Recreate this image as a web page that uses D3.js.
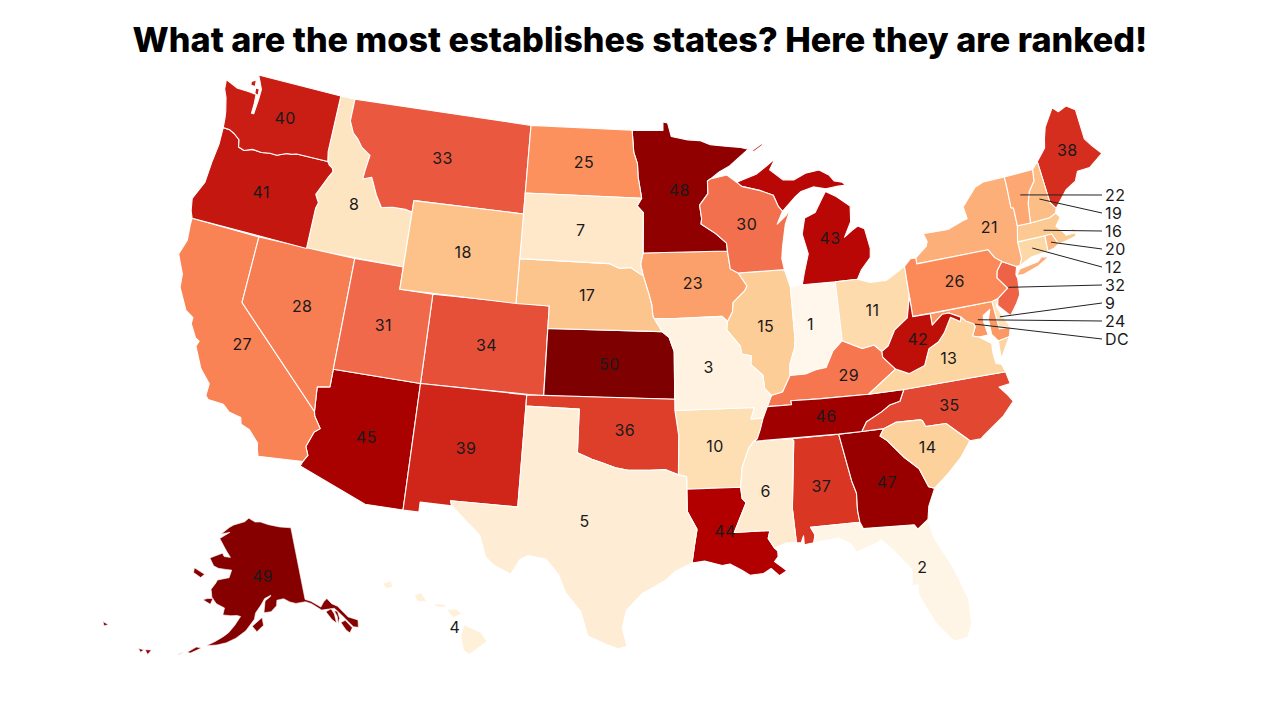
<!DOCTYPE html>
<html><head><meta charset="utf-8">
<script src="https://cdn.jsdelivr.net/npm/d3@7"></script>
<style>html,body{margin:0;background:#fff}svg{display:block}</style></head>
<body><svg id="c" width="1280" height="720"></svg>
<script>
const chartTitle = "What are the most establishes states? Here they are ranked!";
const stateCodes = ["AL","AK","AZ","AR","CA","CO","CT","DE","DC","FL","GA","HI","ID","IL","IN","IA","KS","KY","LA","ME","MD","MA","MI","MN","MS","MO","MT","NE","NV","NH","NJ","NM","NY","NC","ND","OH","OK","OR","PA","RI","SC","SD","TN","TX","UT","VT","VA","WA","WV","WI","WY"];
const stateRanks = [37,49,45,10,27,34,12,9,25,2,47,4,8,15,1,23,50,29,44,38,24,16,43,48,6,3,33,17,28,19,32,39,21,35,25,11,36,41,26,20,14,7,46,5,31,22,13,40,42,30,18];
const calloutOrder = ["VT","NH","MA","RI","CT","NJ","DE","MD","DC"];
const calloutTexts = ["22","19","16","20","12","32","9","24","DC"];
const colorStops = ["#fff7ec","#fee8c8","#fdd49e","#fdbb84","#fc8d59","#ef6548","#d7301f","#b30000","#7f0000"];
// Label anchors differ from ring centroids by these [degrees lon, degrees lat].
const labelShift = {WA:[.17,.05],ID:[-.1,0],TX:[-.2,.1],AK:[1.1,-.25],FL:[.33,.05],LA:[-.17,.1],MI:[-.17,.27],MN:[.11,0],NY:[.6,-.05],KY:[.6,0],IN:[-.22,.14],MO:[-.22,.05],MS:[-.17,0],GA:[.1,0],NC:[-.1,.05],WV:[.17,.05],ME:[.25,.1],OK:[.1,0],IA:[.1,.05],WI:[.1,.05],SD:[-.16,0],ND:[.1,.05],NV:[.1,.1],CA:[.1,0],AZ:[.1,0],PA:[.1,.05],VA:[.05,.1],HI:[-.8,.58],TN:[.1,0]};

// State outlines as [longitude, latitude] rings.
const outlines = {
WA:[[[-124.73,48.38],[-123.9,48.16],[-123.1,48.15],[-122.55,48.12],[-122.5,47.7],[-122.5,47.25],[-122.35,47.25],[-122.3,47.9],[-122.3,48.4],[-122.55,48.75],[-122.75,49.0],[-117.03,49.0],[-117.04,46.43],[-116.92,45.99],[-118.98,46.0],[-119.3,45.93],[-119.6,45.92],[-120.2,45.73],[-120.65,45.74],[-121.2,45.67],[-121.8,45.7],[-122.3,45.55],[-122.7,45.63],[-122.8,45.95],[-123.2,46.15],[-123.55,46.26],[-124.0,46.27],[-124.07,46.7],[-124.15,47.0],[-124.4,47.6],[-124.65,47.95]],[[-123.1,48.62],[-122.8,48.75],[-122.75,48.45],[-123.05,48.45]],[[-122.7,48.4],[-122.45,48.4],[-122.4,48.1],[-122.65,48.15]]],
OR:[[[-124.0,46.27],[-123.55,46.26],[-123.2,46.15],[-122.8,45.95],[-122.7,45.63],[-122.3,45.55],[-121.8,45.7],[-121.2,45.67],[-120.65,45.74],[-120.2,45.73],[-119.6,45.92],[-119.3,45.93],[-118.98,46.0],[-116.92,45.99],[-116.78,45.85],[-116.55,45.75],[-116.46,45.6],[-116.67,45.32],[-116.85,45.03],[-117.21,44.44],[-117.04,44.23],[-116.93,44.1],[-117.03,43.83],[-117.03,42.0],[-124.21,42.0],[-124.4,42.3],[-124.56,42.84],[-124.1,43.7],[-124.05,44.7],[-123.95,45.5]]],
CA:[[[-124.21,42.0],[-120.0,42.0],[-120.0,39.0],[-114.63,35.0],[-114.57,34.8],[-114.14,34.3],[-114.43,34.1],[-114.72,33.4],[-114.52,33.03],[-114.72,32.72],[-117.12,32.53],[-117.25,32.85],[-117.3,33.1],[-117.9,33.6],[-118.4,33.75],[-118.5,34.03],[-119.2,34.15],[-119.6,34.42],[-120.47,34.45],[-120.65,34.6],[-120.63,35.14],[-121.3,35.7],[-121.9,36.6],[-121.8,36.85],[-122.05,36.95],[-122.5,37.5],[-122.5,37.78],[-123.0,38.0],[-123.7,38.9],[-123.8,39.5],[-124.35,40.3],[-124.1,41.0],[-124.2,41.7]]],
NV:[[[-120,42],[-114.04,42],[-114.05,37],[-114.05,36.2],[-114.75,36.1],[-114.63,35.0],[-120,39]]],
ID:[[[-117.03,49],[-116.05,49],[-116.05,48.0],[-115.7,47.5],[-115.3,47.25],[-114.95,46.93],[-114.33,46.65],[-114.45,46.0],[-114.5,45.55],[-113.95,45.7],[-113.45,44.95],[-113.0,44.45],[-112.3,44.55],[-111.5,44.55],[-111.05,44.48],[-111.05,42],[-117.03,42],[-117.03,43.83],[-116.93,44.1],[-117.04,44.23],[-117.21,44.44],[-116.85,45.03],[-116.67,45.32],[-116.46,45.6],[-116.55,45.75],[-116.78,45.85],[-116.92,45.99],[-117.04,46.43]]],
MT:[[[-116.05,49],[-104.05,49],[-104.05,45],[-111.05,45],[-111.05,44.48],[-111.5,44.55],[-112.3,44.55],[-113.0,44.45],[-113.45,44.95],[-113.95,45.7],[-114.5,45.55],[-114.45,46.0],[-114.33,46.65],[-114.95,46.93],[-115.3,47.25],[-115.7,47.5],[-116.05,48.0]]],
WY:[[[-111.05,45],[-104.05,45],[-104.05,41],[-111.05,41]]],
UT:[[[-114.04,42],[-111.05,42],[-111.05,41],[-109.05,41],[-109.05,37],[-114.05,37]]],
AZ:[[[-114.05,37],[-109.05,37],[-109.05,31.33],[-111.07,31.33],[-114.81,32.5],[-114.72,32.72],[-114.52,33.03],[-114.72,33.4],[-114.43,34.1],[-114.14,34.3],[-114.57,34.8],[-114.63,35],[-114.75,36.1],[-114.05,36.2]]],
CO:[[[-109.05,41],[-102.05,41],[-102.05,37],[-109.05,37]]],
NM:[[[-109.05,37],[-103.0,37],[-103.04,32],[-106.62,32],[-106.53,31.78],[-108.21,31.78],[-108.21,31.33],[-109.05,31.33]]],
ND:[[[-104.05,49],[-97.23,49],[-97.1,48.0],[-96.85,47.5],[-96.8,46.9],[-96.56,45.94],[-104.05,45.94]]],
SD:[[[-104.05,45.94],[-96.56,45.94],[-96.85,45.6],[-96.45,45.3],[-96.45,43.5],[-96.6,43.0],[-96.44,42.49],[-96.7,42.6],[-97.2,42.85],[-97.9,42.8],[-98.5,43.0],[-104.05,43]]],
NE:[[[-104.05,43],[-98.5,43],[-97.9,42.8],[-97.2,42.85],[-96.7,42.6],[-96.44,42.49],[-96.1,41.7],[-95.92,41.2],[-95.85,40.7],[-95.77,40.58],[-95.31,40],[-102.05,40],[-102.05,41],[-104.05,41]]],
KS:[[[-102.05,40],[-95.31,40],[-95.1,39.87],[-94.9,39.75],[-94.61,39.11],[-94.62,37],[-102.04,37]]],
OK:[[[-103,37],[-94.62,37],[-94.62,36.5],[-94.43,35.39],[-94.48,33.64],[-95.2,33.88],[-96.0,33.85],[-96.6,33.85],[-97.2,33.85],[-97.9,33.95],[-98.6,34.15],[-99.2,34.3],[-100,34.56],[-100,36.5],[-103,36.5]]],
TX:[[[-106.62,32],[-103.04,32],[-103,36.5],[-100,36.5],[-100,34.56],[-99.2,34.3],[-98.6,34.15],[-97.9,33.95],[-97.2,33.85],[-96.6,33.85],[-96.0,33.85],[-95.2,33.88],[-94.48,33.64],[-94.04,33.55],[-94.04,33.0],[-94.04,32],[-93.55,31.2],[-93.7,30.5],[-93.85,29.7],[-94.7,29.35],[-95.3,28.9],[-96.4,28.35],[-97.2,27.6],[-97.4,26.8],[-97.15,25.96],[-97.6,25.85],[-98.2,26.05],[-99.1,26.4],[-99.5,27.5],[-100.3,28.3],[-100.7,29.1],[-101.4,29.77],[-102.3,29.88],[-102.7,29.7],[-103.15,28.98],[-104.0,29.3],[-104.5,29.65],[-104.9,30.6],[-106.0,31.4],[-106.53,31.78]]],
MN:[[[-97.23,49],[-95.15,49],[-95.15,49.38],[-94.83,49.33],[-94.6,48.72],[-93.5,48.55],[-92.7,48.5],[-92.0,48.3],[-91.0,48.2],[-90.0,48.1],[-89.5,48.0],[-90.8,47.3],[-91.5,47.05],[-92.1,46.75],[-92.29,46.66],[-92.29,46.1],[-92.85,45.6],[-92.75,45.0],[-92.8,44.75],[-91.9,44.3],[-91.25,43.85],[-91.22,43.5],[-96.45,43.5],[-96.45,45.3],[-96.85,45.6],[-96.56,45.94],[-96.8,46.9],[-96.85,47.5],[-97.1,48.0]]],
IA:[[[-96.45,43.5],[-91.22,43.5],[-91.1,42.7],[-90.64,42.5],[-90.15,41.9],[-90.3,41.7],[-91.05,41.2],[-91.1,40.8],[-91.42,40.38],[-91.73,40.61],[-94.5,40.58],[-95.77,40.58],[-95.85,40.7],[-95.92,41.2],[-96.1,41.7],[-96.44,42.49],[-96.6,43.0]]],
MO:[[[-95.77,40.58],[-94.5,40.58],[-91.73,40.61],[-91.42,40.38],[-91.5,40.0],[-90.75,39.25],[-90.7,38.9],[-90.15,38.8],[-90.2,38.4],[-89.55,37.9],[-89.5,37.3],[-89.15,36.98],[-89.42,36.5],[-89.7,36.0],[-90.37,36],[-90.15,36.5],[-94.62,36.5],[-94.62,37],[-94.61,39.11],[-94.9,39.75],[-95.1,39.87],[-95.31,40]]],
AR:[[[-94.62,36.5],[-90.15,36.5],[-90.37,36],[-89.7,36],[-89.9,35.5],[-90.1,35.1],[-90.3,35.0],[-90.6,34.7],[-91.0,33.9],[-91.15,33.0],[-94.04,33.0],[-94.04,33.55],[-94.48,33.64],[-94.43,35.39]]],
LA:[[[-94.04,33],[-91.15,33],[-91.1,32.5],[-90.9,32.3],[-91.6,31.0],[-89.73,31.0],[-89.85,30.65],[-89.55,30.2],[-89.4,30.05],[-89.4,29.8],[-89.6,29.6],[-89.2,29.3],[-89.0,29.15],[-89.4,28.95],[-89.8,29.3],[-90.2,29.1],[-90.9,29.05],[-91.3,29.3],[-91.9,29.6],[-92.3,29.55],[-93.2,29.77],[-93.85,29.7],[-93.7,30.5],[-93.55,31.2],[-94.04,32]]],
MS:[[[-91.15,33],[-91.0,33.9],[-90.6,34.7],[-90.3,35],[-88.2,35],[-88.1,34.9],[-88.47,31.9],[-88.4,30.37],[-88.9,30.4],[-89.55,30.2],[-89.85,30.65],[-89.73,31],[-91.6,31],[-90.9,32.3],[-91.1,32.5]]],
AL:[[[-88.2,35],[-85.6,35],[-85.18,32.87],[-85.0,32.3],[-85.05,31.55],[-85.0,31],[-87.6,31],[-87.4,30.65],[-87.5,30.3],[-88.0,30.25],[-88.0,30.65],[-88.15,30.35],[-88.4,30.37],[-88.47,31.9],[-88.1,34.9]]],
TN:[[[-90.3,35],[-90.1,35.1],[-89.9,35.5],[-89.7,36],[-89.42,36.5],[-88.05,36.5],[-88.07,36.68],[-86.5,36.65],[-83.68,36.6],[-81.68,36.59],[-82.0,36.1],[-82.6,36.0],[-83.1,35.75],[-84.0,35.4],[-84.32,35.0],[-85.6,35]]],
KY:[[[-89.42,36.5],[-89.15,36.98],[-88.5,37.1],[-88.0,37.8],[-87.1,37.8],[-86.5,37.95],[-85.9,38.0],[-85.4,38.7],[-84.8,39.1],[-84.2,38.85],[-83.7,38.65],[-83.0,38.73],[-82.6,38.4],[-82.6,38.15],[-81.97,37.54],[-83.68,36.6],[-86.5,36.65],[-88.07,36.68],[-88.05,36.5]]],
IL:[[[-90.64,42.5],[-87.8,42.5],[-87.55,41.75],[-87.53,41.7],[-87.53,39.35],[-87.6,39.0],[-87.95,38.3],[-88.0,37.8],[-88.5,37.1],[-89.15,36.98],[-89.5,37.3],[-89.55,37.9],[-90.2,38.4],[-90.15,38.8],[-90.7,38.9],[-90.75,39.25],[-91.5,40.0],[-91.42,40.38],[-91.1,40.8],[-91.05,41.2],[-90.3,41.7],[-90.15,41.9]]],
IN:[[[-87.53,41.7],[-87.2,41.75],[-86.8,41.76],[-84.8,41.73],[-84.8,39.1],[-85.4,38.7],[-85.9,38.0],[-86.5,37.95],[-87.1,37.8],[-88,37.8],[-87.95,38.3],[-87.6,39.0],[-87.53,39.35]]],
OH:[[[-84.8,41.73],[-83.45,41.72],[-82.7,41.5],[-81.7,41.5],[-80.52,41.98],[-80.52,40.64],[-80.85,39.7],[-81.7,39.25],[-82.2,38.6],[-82.6,38.4],[-83,38.73],[-83.7,38.65],[-84.2,38.85],[-84.8,39.1]]],
MI:[[[-86.8,41.76],[-84.8,41.73],[-83.45,41.72],[-83.15,42.1],[-82.5,42.6],[-82.42,43.0],[-82.6,43.9],[-83.0,44.07],[-83.4,43.9],[-83.9,43.65],[-83.4,44.3],[-83.3,45.0],[-84.1,45.5],[-84.75,45.78],[-85.1,45.4],[-85.55,44.9],[-86.25,44.7],[-86.5,44.0],[-86.25,43.1],[-86.6,42.3]],[[-90.4,46.55],[-89.1,46.85],[-88.45,47.15],[-87.8,47.47],[-88.2,47.0],[-87.4,46.5],[-86.7,46.45],[-85.9,46.7],[-85.0,46.77],[-84.4,46.5],[-84.1,46.2],[-83.6,46.1],[-83.45,45.95],[-83.9,45.95],[-84.7,45.9],[-85.5,46.05],[-86.3,45.9],[-86.7,45.7],[-87.6,45.1],[-87.85,45.35],[-88.1,45.85],[-88.9,46.1],[-90.1,46.35]],[[-89.2,47.85],[-88.5,48.15],[-88.6,48.2],[-89.2,47.95]]],
WI:[[[-92.29,46.66],[-92.1,46.75],[-91.0,46.9],[-90.4,46.55],[-90.1,46.35],[-88.9,46.1],[-88.1,45.85],[-87.85,45.35],[-87.6,45.1],[-88.0,44.55],[-87.4,44.9],[-87.05,45.25],[-87.5,44.5],[-87.8,43.5],[-87.9,43.0],[-87.8,42.5],[-90.64,42.5],[-91.1,42.7],[-91.22,43.5],[-91.25,43.85],[-91.9,44.3],[-92.8,44.75],[-92.75,45],[-92.85,45.6],[-92.29,46.1]]],
PA:[[[-80.52,41.98],[-80.1,42.27],[-79.76,42.27],[-79.76,42.0],[-75.35,42.0],[-75.07,41.6],[-74.7,41.36],[-75.1,41.0],[-75.2,40.7],[-74.72,40.15],[-75.4,39.8],[-75.79,39.72],[-80.52,39.72]]],
NY:[[[-79.76,42.27],[-79.0,42.7],[-78.9,42.9],[-79.05,43.27],[-77.5,43.25],[-76.5,43.5],[-76.2,43.55],[-76.3,44.1],[-75.3,44.85],[-74.7,45.0],[-73.35,45.0],[-73.35,44.5],[-73.4,43.6],[-73.25,43.55],[-73.28,42.75],[-73.5,42.05],[-73.5,41.3],[-73.7,41.0],[-73.9,41.0],[-74.7,41.36],[-75.07,41.6],[-75.35,42],[-79.76,42]],[[-74.02,40.6],[-73.75,40.85],[-72.6,40.98],[-72.3,41.15],[-71.9,41.07],[-72.6,40.8],[-73.6,40.58]]],
NJ:[[[-74.7,41.36],[-73.9,41.0],[-74.05,40.65],[-74.0,40.45],[-74.1,39.75],[-74.4,39.4],[-74.9,38.93],[-75.5,39.5],[-75.4,39.8],[-74.72,40.15],[-75.2,40.7],[-75.1,41]]],
DE:[[[-75.79,39.72],[-75.4,39.8],[-75.6,39.45],[-75.4,39.1],[-75.05,38.45],[-75.7,38.46]]],
MD:[[[-79.48,39.72],[-75.79,39.72],[-75.7,38.46],[-75.05,38.45],[-75.24,38.03],[-75.9,37.95],[-76.2,38.3],[-76.2,39.0],[-76.0,39.4],[-76.45,39.2],[-76.5,38.9],[-76.4,38.3],[-76.95,38.3],[-77.3,38.4],[-77.04,38.79],[-77.12,38.93],[-77.5,39.1],[-77.75,39.32],[-78.4,39.6],[-78.8,39.6],[-79.48,39.2]]],
DC:[[[-77.12,38.93],[-77.04,38.99],[-76.91,38.89],[-77.04,38.79]]],
VA:[[[-83.68,36.6],[-81.97,37.54],[-81.25,37.25],[-80.3,37.5],[-79.9,38.2],[-79.3,38.42],[-78.87,38.77],[-78.35,39.4],[-77.83,39.13],[-77.75,39.32],[-77.5,39.1],[-77.12,38.93],[-77.04,38.79],[-77.3,38.4],[-76.95,38.3],[-76.3,37.9],[-76.35,37.5],[-76.3,37.0],[-76.0,36.92],[-75.87,36.55],[-81.68,36.59]],[[-75.9,37.95],[-75.24,38.03],[-75.95,37.15]]],
WV:[[[-80.52,40.64],[-80.52,39.72],[-79.48,39.72],[-79.48,39.2],[-78.8,39.6],[-78.4,39.6],[-77.75,39.32],[-77.83,39.13],[-78.35,39.4],[-78.87,38.77],[-79.3,38.42],[-79.9,38.2],[-80.3,37.5],[-81.25,37.25],[-81.97,37.54],[-82.6,38.15],[-82.6,38.4],[-82.2,38.6],[-81.7,39.25],[-80.85,39.7]]],
NC:[[[-84.32,35],[-84,35.4],[-83.1,35.75],[-82.6,36],[-82,36.1],[-81.68,36.59],[-75.87,36.55],[-75.75,36.0],[-76.4,35.95],[-76.0,35.5],[-75.8,35.2],[-76.5,34.65],[-77.7,34.0],[-77.95,33.85],[-78.55,33.86],[-79.67,34.8],[-80.8,34.82],[-80.93,35.1],[-81.05,35.15],[-82.4,35.2],[-83.1,35.0]]],
SC:[[[-83.35,34.7],[-83.1,35],[-82.4,35.2],[-81.05,35.15],[-80.93,35.1],[-80.8,34.82],[-79.67,34.8],[-78.55,33.86],[-79.2,33.2],[-80.0,32.6],[-80.85,32.05],[-81.15,32.15],[-81.5,33.0],[-82.2,33.6],[-83.0,34.45]]],
GA:[[[-85.6,35],[-84.32,35],[-83.1,35],[-83.35,34.7],[-83,34.45],[-82.2,33.6],[-81.5,33],[-81.15,32.15],[-80.85,32.05],[-81.3,31.3],[-81.45,30.72],[-82.05,30.36],[-82.2,30.57],[-84.86,30.7],[-85,31],[-85.05,31.55],[-85,32.3],[-85.18,32.87]]],
FL:[[[-87.6,31],[-85,31],[-84.86,30.7],[-82.2,30.57],[-82.05,30.36],[-81.45,30.72],[-81.3,29.9],[-80.55,28.4],[-80.05,26.9],[-80.1,25.8],[-80.4,25.2],[-81.1,25.13],[-81.8,26.0],[-82.2,26.8],[-82.5,27.5],[-82.45,27.9],[-82.75,27.85],[-82.65,28.6],[-83.4,29.5],[-84.0,30.1],[-84.35,29.95],[-85.35,29.68],[-85.6,30.1],[-86.2,30.4],[-87.5,30.3],[-87.4,30.65]]],
VT:[[[-73.35,45],[-71.5,45.01],[-71.6,44.5],[-72.05,44.1],[-72.3,43.6],[-72.46,42.73],[-73.28,42.75],[-73.25,43.55],[-73.4,43.6],[-73.35,44.5]]],
NH:[[[-71.5,45.01],[-71.08,45.3],[-70.98,43.4],[-70.7,43.07],[-70.82,42.87],[-71.25,42.74],[-72.46,42.73],[-72.3,43.6],[-72.05,44.1],[-71.6,44.5]]],
ME:[[[-71.08,45.3],[-70.4,45.8],[-70.25,46.2],[-70.0,46.7],[-69.22,47.45],[-68.9,47.2],[-68.3,47.35],[-67.79,47.07],[-67.79,45.7],[-67.45,45.3],[-67.0,44.85],[-68.0,44.4],[-68.8,44.4],[-69.1,44.0],[-69.8,43.75],[-70.7,43.07],[-70.98,43.4]]],
MA:[[[-73.5,42.05],[-73.28,42.75],[-72.46,42.73],[-71.25,42.74],[-70.82,42.87],[-70.6,42.65],[-71.0,42.3],[-70.65,41.95],[-70.55,41.8],[-70.0,41.8],[-70.25,42.07],[-69.95,41.95],[-69.98,41.65],[-70.65,41.55],[-71.12,41.5],[-71.38,42.02],[-71.8,42.02]]],
RI:[[[-71.8,42.02],[-71.38,42.02],[-71.12,41.5],[-71.5,41.37],[-71.85,41.32]]],
CT:[[[-73.5,42.05],[-71.8,42.02],[-71.85,41.32],[-72.9,41.25],[-73.7,41.0],[-73.5,41.3]]],
AK:[[[-141,69.65],[-141,60.3],[-139.6,59.9],[-137.5,58.9],[-136.5,59.45],[-135.5,59.75],[-134.7,58.95],[-133.5,58.4],[-131.9,56.7],[-130.0,55.9],[-130.5,55],[-131.5,55.3],[-132.4,56.3],[-133.2,57.2],[-134.4,58.3],[-135.8,58.4],[-137.5,58.5],[-139.6,59.6],[-141,60],[-143.5,60],[-145,60.3],[-146.5,60.8],[-148.3,60.7],[-148.5,60],[-150,59.3],[-151.8,59.2],[-151.4,60.7],[-150,61.2],[-149.8,61.4],[-151.5,61.0],[-152.5,60.2],[-153.9,59.2],[-154.2,58.4],[-156.2,56.9],[-158.4,55.9],[-160.5,55.2],[-162.5,54.8],[-164.8,54.5],[-163,55.2],[-161.3,55.95],[-160.2,56.5],[-158.9,57.5],[-157.6,58.7],[-158.5,58.8],[-160,58.7],[-162,58.7],[-161.8,59.6],[-164,60],[-165.4,60.7],[-166,61.7],[-165,62.6],[-164.7,63.0],[-161.5,63.5],[-161,64.5],[-162.8,64.5],[-165,64.5],[-166.5,64.7],[-168.1,65.6],[-164.5,66.5],[-163.8,66.1],[-161.8,66.1],[-163,66.7],[-163.8,67.1],[-166.2,68.3],[-163,69.3],[-166,68.9],[-163.5,69.9],[-162,70.3],[-158,70.85],[-156.5,71.35],[-154,70.85],[-152,70.85],[-149,70.45],[-145,70]],
[[-152.3,58.6],[-154.7,57.5],[-153.6,56.8],[-152,57.6]],[[-166.5,60.45],[-165.1,60.6],[-165.5,59.8],[-167.6,60.2]],[[-171.9,63.9],[-168.6,63.4],[-169.5,62.9],[-171.8,63.3]],[[-166.9,54.1],[-165.8,54.1],[-167.9,53.2],[-168.6,53.2]],[[-168.9,53.3],[-168.1,53.6],[-170.2,52.75],[-170.3,52.6]],[[-177.2,52.0],[-176.0,52.25],[-176.4,51.55]],[[-178.6,51.85],[-177.5,51.95],[-177.9,51.5]],[[172.3,53.05],[173.6,53.0],[172.9,52.65]],[[-136.6,58.15],[-135.2,58.35],[-134.8,57.6],[-134.9,56.4],[-135.7,57.0]],[[-134.6,58.0],[-133.9,57.8],[-133.9,56.9],[-134.6,56.2],[-134.3,57.2]],[[-133.9,56.3],[-132.8,56.4],[-131.8,55.2],[-132.7,54.7],[-133.3,55.2]]],
HI:[[[-155.9,20.25],[-155.1,19.9],[-154.82,19.5],[-155.65,18.93],[-155.92,19.1],[-156.05,19.75]],[[-156.7,20.95],[-156.25,20.95],[-156.0,20.75],[-156.4,20.58],[-156.6,20.78]],[[-158.27,21.57],[-157.95,21.7],[-157.67,21.3],[-158.1,21.3]],[[-159.78,22.1],[-159.4,22.22],[-159.3,21.95],[-159.6,21.88]],[[-157.3,21.2],[-156.72,21.17],[-156.85,21.05],[-157.25,21.08]]]
};

const projection = d3.geoAlbersUsa().scale(1280).translate([640, 361]);
const color = d3.scaleLinear()
  .domain(d3.range(colorStops.length).map(i => 1 + i * 49 / (colorStops.length - 1)))
  .range(colorStops);
const ranks = new Map(stateCodes.map((c, i) => [c, stateRanks[i]]));
const project = ring => ring.map(p => projection(p)).filter(Boolean);
const line = d3.line().curve(d3.curveLinearClosed);
const ringsOf = code => outlines[code].map(project);
const mainCentroid = code => {
  const rs = ringsOf(code);
  return d3.polygonCentroid(d3.greatest(rs, r => Math.abs(d3.polygonArea(r))));
};
const labelPoint = code => {
  const c = mainCentroid(code), s = labelShift[code];
  if (!s) return c;
  const ll = projection.invert(c);
  return projection([ll[0] + s[0], ll[1] + s[1]]) || c;
};

const svg = d3.select("#c");
const fontStack = "Inter, 'Open Sans', sans-serif";

svg.append("text").attr("x", 640).attr("y", 52).attr("text-anchor", "middle")
  .attr("font-family", fontStack).attr("font-weight", 800).attr("font-size", 34.2)
  .attr("fill", "#000").text(chartTitle);

svg.append("g").selectAll("path").data(stateCodes).join("path")
  .attr("d", c => ringsOf(c).map(r => line(r)).join(""))
  .attr("fill", c => color(ranks.get(c)))
  .attr("stroke", "#fff").attr("stroke-width", c => c === "AK" || c === "HI" ? 0.6 : 1.1).attr("stroke-linejoin", "round");

const inline = stateCodes.filter(c => !calloutOrder.includes(c));
svg.append("g").selectAll("text").data(inline).join("text")
  .attr("x", c => labelPoint(c)[0]).attr("y", c => labelPoint(c)[1])
  .attr("text-anchor", "middle").attr("dominant-baseline", "central")
  .attr("font-family", fontStack).attr("font-size", 16).attr("letter-spacing", 0.4).attr("fill", "#1a1a1a")
  .text(c => ranks.get(c));

const calloutY = d3.scalePoint().domain(calloutOrder).range([195, 339]);
const callouts = svg.append("g");
callouts.selectAll("line").data(calloutOrder).join("line")
  .attr("x1", c => mainCentroid(c)[0]).attr("y1", c => mainCentroid(c)[1])
  .attr("x2", 1102).attr("y2", c => calloutY(c))
  .attr("stroke", "#222").attr("stroke-width", 1);
callouts.selectAll("text").data(calloutOrder).join("text")
  .attr("x", 1105).attr("y", c => calloutY(c))
  .attr("dominant-baseline", "central")
  .attr("font-family", fontStack).attr("font-size", 16).attr("letter-spacing", 0.4).attr("fill", "#1a1a1a")
  .text((c, i) => calloutTexts[i]);
</script></body></html>
